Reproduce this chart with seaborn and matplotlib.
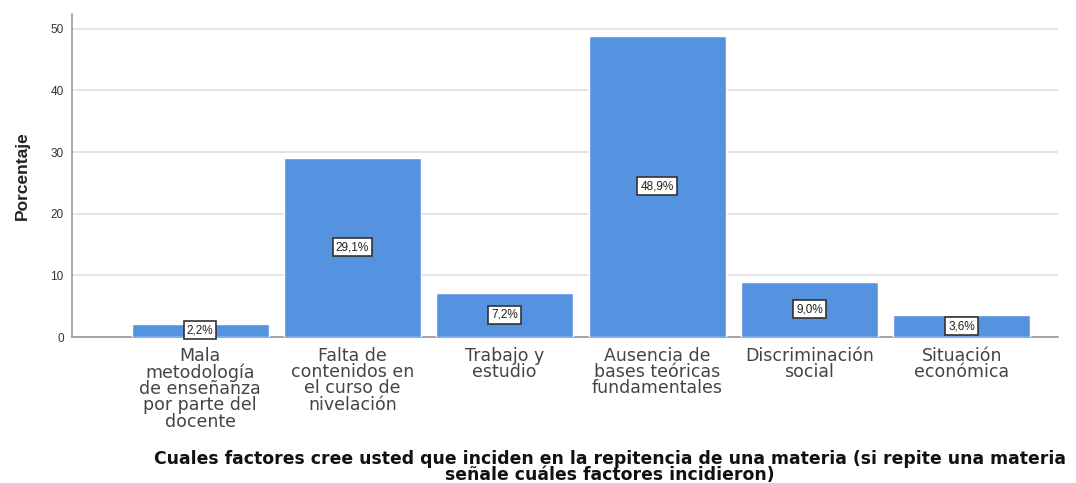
import numpy as np
import pandas as pd
import matplotlib
matplotlib.use("Agg")
import matplotlib.pyplot as plt
import seaborn as sns

# =========================================================
# DATA
# =========================================================

categories = [
    "Mala\nmetodología\nde enseñanza\npor parte del\ndocente",
    "Falta de\ncontenidos en\nel curso de\nnivelación",
    "Trabajo y\nestudio",
    "Ausencia de\nbases teóricas\nfundamentales",
    "Discriminación\nsocial",
    "Situación\neconómica",
]
percentages = [2.2, 29.1, 7.2, 48.9, 9.0, 3.6]
y_ticks = [0, 10, 20, 30, 40, 50]

x_title = ("Cuales factores cree usted que inciden en la repitencia de una materia (si repite una materia\n"
           "señale cuáles factores incidieron)")

df = pd.DataFrame({"factor": categories, "pct": percentages})

# =========================================================
# PLOT
# =========================================================

sns.set_theme(style="white")
plt.rcParams["font.family"] = ["Liberation Sans", "DejaVu Sans"]

fig = plt.figure(figsize=(10.76, 4.83), dpi=100)
ax = fig.add_axes([0.067, 0.302, 0.916, 0.669])

sns.barplot(data=df, x="factor", y="pct", color="#5592E0", saturation=1,
            width=0.9, ax=ax, zorder=3)

ax.set_xlim(-0.84, 5.63)
ax.set_ylim(0, 52.4)
ax.set_yticks(y_ticks)
ax.yaxis.grid(True, color="#e2e2e2", linewidth=1.3, zorder=0)
ax.set_axisbelow(True)

for s in ["top", "right"]:
    ax.spines[s].set_visible(False)
for s in ["left", "bottom"]:
    ax.spines[s].set_color("#9a9a9a")
    ax.spines[s].set_linewidth(1.2)

ax.tick_params(axis="y", labelsize=8.5, colors="#333333", length=0, pad=6)
ax.tick_params(axis="x", length=0, pad=7)
for lab in ax.get_xticklabels():
    lab.set_family("DejaVu Sans")
    lab.set_fontsize(12.5)
    lab.set_color("#444444")
    lab.set_linespacing(0.88)

ax.set_ylabel("Porcentaje", fontsize=12.5, fontweight="bold", color="#222222", labelpad=15)
ax.set_xlabel(x_title, family="DejaVu Sans", fontsize=12.4, fontweight="bold",
              color="#111111", linespacing=0.82)
ax.xaxis.set_label_coords(0.546, -0.35)

# value labels in boxes at half bar height
for i, v in enumerate(percentages):
    txt = f"{v:.1f}%".replace(".", ",")
    ax.text(i, v / 2, txt, ha="center", va="center", fontsize=8.5, color="#222222",
            zorder=5,
            bbox=dict(boxstyle="square,pad=0.25", facecolor="white",
                      edgecolor="#333333", linewidth=1.2))

plt.savefig("out.png", dpi=100)
